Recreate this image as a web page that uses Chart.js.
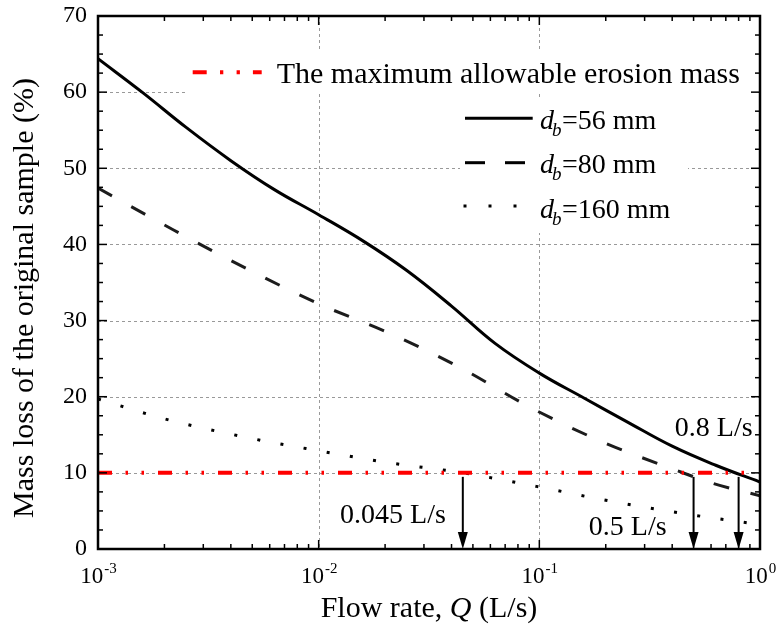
<!DOCTYPE html>
<html>
<head>
<meta charset="utf-8">
<script src="https://cdn.jsdelivr.net/npm/chart.js@4.4.1/dist/chart.umd.min.js"></script>
<style>
  html, body { margin: 0; padding: 0; background: #fff; }
</style>
</head>
<body>
<canvas id="chart" width="776" height="632"></canvas>
<script>
// flow rate Q (L/s) vs mass loss (%)
const q56 = [0.001, 0.0016, 0.0025, 0.004, 0.0063, 0.01, 0.016, 0.025, 0.04, 0.063, 0.1, 0.16, 0.25, 0.4, 0.63, 1];
const loss56 = [64.4, 59.9, 55.4, 51.0, 47.2, 43.9, 40.4, 36.6, 31.9, 27.0, 23.1, 19.8, 16.7, 13.5, 11.0, 8.8];

const q80 = [0.001, 0.0022, 0.00473, 0.01, 0.0211, 0.0446, 0.091, 0.192, 0.42, 0.615, 1];
const loss80 = [47.4, 41.9, 36.8, 32.2, 28.3, 23.7, 18.6, 14.1, 10.3, 8.6, 7.0];

const q160 = [0.001, 0.002, 0.005, 0.01, 0.02, 0.045, 0.1, 0.2, 0.5, 1];
const loss160 = [19.7, 17.1, 14.5, 12.9, 11.4, 10.0, 8.15, 6.4, 4.45, 3.2];

// maximum allowable erosion mass
const limitQ = [0.001, 0.88];
const limitLoss = [10, 10];

// critical flow rates marked with arrows
const arrowQ = [0.045, 0.5, 0.8];
const arrowText = ['0.045 L/s', '0.5 L/s', '0.8 L/s'];

const xMajor = [0.001, 0.01, 0.1, 1];
const xExp = ['-3', '-2', '-1', '0'];
const yMajor = [0, 10, 20, 30, 40, 50, 60, 70];

const legendText = ['56', '80', '160'];

const serif = "'Liberation Serif', 'Times New Roman', serif";
const pts = (xs, ys) => xs.map((x, i) => ({ x: x, y: ys[i] }));

const frame = {
  id: 'frame',
  beforeDatasetsDraw(chart) {
    const { ctx, chartArea: a, scales: { x, y } } = chart;
    ctx.save();
    ctx.strokeStyle = '#999';
    ctx.lineWidth = 1;
    ctx.setLineDash([3, 3]);
    xMajor.slice(1, -1).forEach(v => {
      const px = Math.round(x.getPixelForValue(v)) + 0.5;
      ctx.beginPath(); ctx.moveTo(px, a.top); ctx.lineTo(px, a.bottom); ctx.stroke();
    });
    yMajor.slice(1, -1).forEach(v => {
      const py = Math.round(y.getPixelForValue(v)) + 0.5;
      ctx.beginPath(); ctx.moveTo(a.left, py); ctx.lineTo(a.right, py); ctx.stroke();
    });
    ctx.setLineDash([]);
    // white legend panels
    ctx.fillStyle = '#fff';
    ctx.fillRect(186, 50, a.right - 188, 43);
    ctx.fillRect(460, 97, 228, 136);
    ctx.restore();
  },
  afterDatasetsDraw(chart) {
    const { ctx, chartArea: a, scales: { x, y } } = chart;
    ctx.save();
    // arrows
    const y10 = y.getPixelForValue(10);
    ctx.strokeStyle = '#000';
    ctx.fillStyle = '#000';
    ctx.lineWidth = 2;
    arrowQ.forEach(q => {
      const px = x.getPixelForValue(q);
      ctx.beginPath(); ctx.moveTo(px, y10 + 4); ctx.lineTo(px, a.bottom - 14); ctx.stroke();
      ctx.beginPath();
      ctx.moveTo(px - 5, a.bottom - 17);
      ctx.lineTo(px + 5, a.bottom - 17);
      ctx.lineTo(px, a.bottom);
      ctx.closePath(); ctx.fill();
    });
    // arrow labels
    ctx.font = '28px ' + serif;
    ctx.textAlign = 'right';
    ctx.textBaseline = 'alphabetic';
    const place = [[-17, 523], [-27, 535], [14, 436]];
    arrowText.forEach((t, i) => {
      ctx.fillText(t, x.getPixelForValue(arrowQ[i]) + place[i][0], place[i][1]);
    });

    // frame
    ctx.lineWidth = 2.5;
    ctx.strokeRect(a.left, a.top, a.right - a.left, a.bottom - a.top);

    // ticks, pointing inward on all four sides
    ctx.lineWidth = 1.5;
    const tick = (x0, y0, x1, y1) => { ctx.beginPath(); ctx.moveTo(x0, y0); ctx.lineTo(x1, y1); ctx.stroke(); };
    for (let e = -3; e < 0; e++) {
      for (let k = 1; k <= 9; k++) {
        const v = k * Math.pow(10, e);
        const px = x.getPixelForValue(v);
        const len = k === 1 ? 9 : 5;
        tick(px, a.bottom, px, a.bottom - len);
        tick(px, a.top, px, a.top + len);
      }
    }
    for (let v = 0; v <= 70; v += 2.5) {
      const py = y.getPixelForValue(v);
      const len = v % 10 === 0 ? 9 : 5;
      tick(a.left, py, a.left + len, py);
      tick(a.right, py, a.right - len, py);
    }

    // y tick labels
    ctx.font = '24px ' + serif;
    ctx.textAlign = 'right';
    ctx.textBaseline = 'middle';
    yMajor.forEach(v => ctx.fillText(String(v), a.left - 11, y.getPixelForValue(v)));

    // x tick labels 10^n
    ctx.textAlign = 'left';
    ctx.textBaseline = 'alphabetic';
    xMajor.forEach((v, i) => {
      ctx.font = '23px ' + serif;
      const w1 = ctx.measureText('10').width;
      ctx.font = '15px ' + serif;
      const w2 = ctx.measureText(xExp[i]).width;
      const x0 = x.getPixelForValue(v) - (w1 + w2) / 2;
      ctx.font = '23px ' + serif;
      ctx.fillText('10', x0, 583);
      ctx.font = '15px ' + serif;
      ctx.fillText(xExp[i], x0 + w1 + 1, 573);
    });

    // axis titles
    const p1 = 'Flow rate, ', p3 = ' (L/s)';
    ctx.font = '30px ' + serif;
    const w1 = ctx.measureText(p1).width, w3 = ctx.measureText(p3).width;
    ctx.font = 'italic 30px ' + serif;
    const w2 = ctx.measureText('Q').width;
    const tx = (a.left + a.right) / 2 - (w1 + w2 + w3) / 2;
    ctx.font = '30px ' + serif;
    ctx.fillText(p1, tx, 617);
    ctx.font = 'italic 30px ' + serif;
    ctx.fillText('Q', tx + w1, 617);
    ctx.font = '30px ' + serif;
    ctx.fillText(p3, tx + w1 + w2, 617);

    ctx.save();
    ctx.translate(33, 298);
    ctx.rotate(-Math.PI / 2);
    ctx.textAlign = 'center';
    ctx.fillText('Mass loss of the original sample (%)', 0, 0);
    ctx.restore();

    // legend
    ctx.strokeStyle = '#ff0000';
    ctx.lineWidth = 4;
    ctx.setLineDash([14, 13.3, 3.3, 13.3, 3.3, 13]);
    ctx.beginPath(); ctx.moveTo(192.7, 72.3); ctx.lineTo(261.7, 72.3); ctx.stroke();
    ctx.setLineDash([]);
    ctx.fillStyle = '#000';
    ctx.font = '30px ' + serif;
    ctx.textAlign = 'left';
    ctx.fillText('The maximum allowable erosion mass', 276.7, 83.3);

    ctx.strokeStyle = '#000';
    ctx.lineWidth = 3;
    ctx.beginPath(); ctx.moveTo(465, 118.3); ctx.lineTo(532.7, 118.3); ctx.stroke();
    ctx.setLineDash([20, 20]);
    ctx.beginPath(); ctx.moveTo(465, 162.7); ctx.lineTo(525, 162.7); ctx.stroke();
    ctx.setLineDash([]);
    [465, 490, 515].forEach(dx => ctx.fillRect(dx - 1.5, 204.5, 3, 3));

    const rows = [129.3, 173.3, 218.3];
    legendText.forEach((t, i) => {
      ctx.font = 'italic 28px ' + serif;
      ctx.fillText('d', 540, rows[i]);
      ctx.font = 'italic 19px ' + serif;
      ctx.fillText('b', 552, rows[i] + 7);
      ctx.font = '28px ' + serif;
      ctx.fillText('=' + t + ' mm', 562, rows[i]);
    });
    ctx.restore();
  }
};

new Chart(document.getElementById('chart'), {
  type: 'line',
  data: {
    datasets: [
      { label: 'limit', data: pts(limitQ, limitLoss), borderColor: '#ff0000', borderWidth: 4,
        borderDash: [14, 13.5, 2.5, 13.5, 2.5, 14], tension: 0 },
      { label: 'db=56 mm', data: pts(q56, loss56), borderColor: '#000', borderWidth: 3, tension: 0.4 },
      { label: 'db=80 mm', data: pts(q80, loss80), borderColor: '#1c1c1c', borderWidth: 3,
        borderDash: [16, 22], cubicInterpolationMode: 'monotone' },
      { label: 'db=160 mm', data: pts(q160, loss160), borderColor: '#000', borderWidth: 3,
        borderDash: [3, 20.5], cubicInterpolationMode: 'monotone' }
    ]
  },
  options: {
    responsive: false,
    animation: false,
    layout: { padding: { left: 98, right: 16, top: 16, bottom: 83 } },
    elements: { point: { radius: 0 } },
    scales: {
      x: { type: 'logarithmic', min: 0.001, max: 1, display: false },
      y: { type: 'linear', min: 0, max: 70, display: false }
    },
    plugins: { legend: { display: false }, tooltip: { enabled: false } }
  },
  plugins: [frame]
});
</script>
</body>
</html>
